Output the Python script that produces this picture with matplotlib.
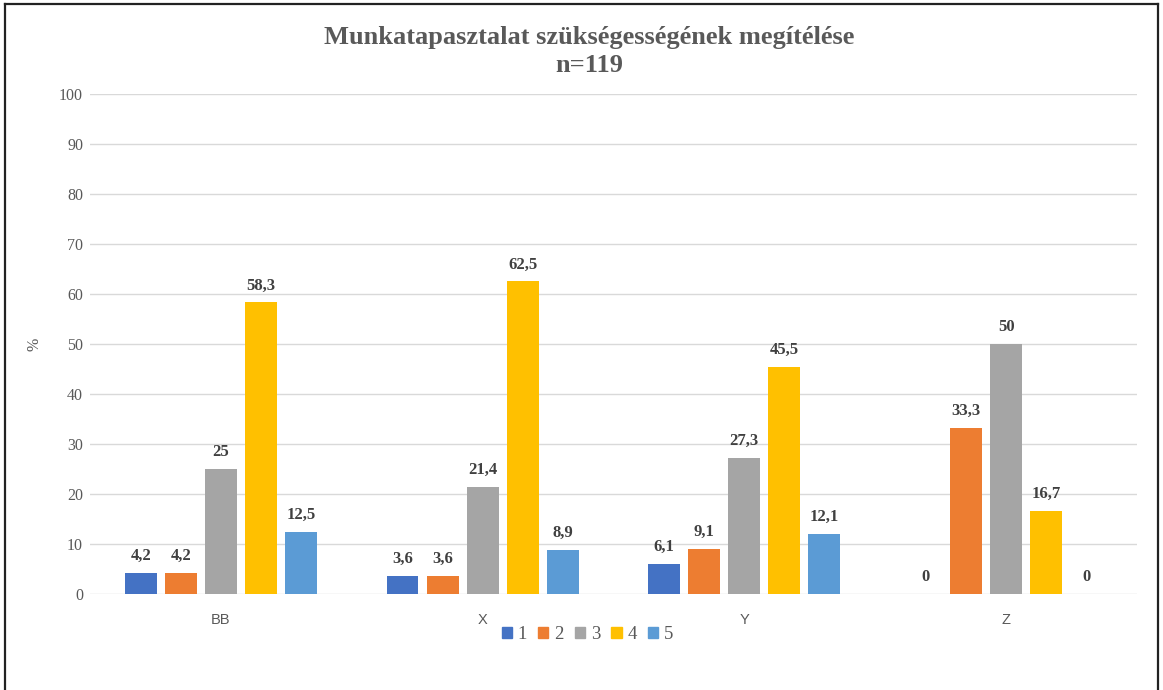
import matplotlib
matplotlib.use("Agg")
import matplotlib.pyplot as plt
import numpy as np
from matplotlib.lines import Line2D

categories = ["BB", "X", "Y", "Z"]
series_names = ["1", "2", "3", "4", "5"]
values_1 = [4.2, 3.6, 6.1, 0]
values_2 = [4.2, 3.6, 9.1, 33.3]
values_3 = [25, 21.4, 27.3, 50]
values_4 = [58.3, 62.5, 45.5, 16.7]
values_5 = [12.5, 8.9, 12.1, 0]
colors = ["#4472C4", "#ED7D31", "#A5A5A5", "#FFC000", "#5B9BD5"]

series = [values_1, values_2, values_3, values_4, values_5]

serif = ["Liberation Serif", "DejaVu Serif"]
text_grey = "#595959"

fig = plt.figure(figsize=(11.63, 6.90), dpi=100)
ax = fig.add_axes([0.0774, 0.1391, 0.9002, 0.7247])

x = np.arange(len(categories))
step = 0.153
width = 0.122
for i, (vals, col, name) in enumerate(zip(series, colors, series_names)):
    pos = x + (i - 2) * step
    ax.bar(pos, vals, width=width, color=col, label=name, zorder=3)
    for px, v in zip(pos, vals):
        label = f"{v:g}".replace(".", ",")
        ax.text(px, v + 1.8, label, ha="center", va="bottom", fontsize=12,
                fontweight="bold", family=serif, color="#404040")

ax.set_xlim(-0.5, 3.5)
ax.set_ylim(0, 100)
ax.set_yticks(range(0, 101, 10))
ax.yaxis.grid(True, color="#D9D9D9", linewidth=1, zorder=0)
for s in ax.spines.values():
    s.set_visible(False)
ax.tick_params(axis="both", length=0)
ax.tick_params(axis="y", pad=5)
for t in ax.get_yticklabels():
    t.set_family(serif)
    t.set_fontsize(11.5)
    t.set_color(text_grey)
ax.set_xticks(x)
ax.set_xticklabels(categories, fontsize=10.5, color=text_grey,
                   family=["Liberation Sans", "DejaVu Sans"])
ax.tick_params(axis="x", pad=14)
ax.set_ylabel("%", family=serif, fontsize=11.5, color=text_grey, labelpad=12)

fig.text(0.5063, 0.963, "Munkatapasztalat szükségességének megítélése\nn=119",
         ha="center", va="top", fontsize=19, fontweight="bold", family=serif,
         color=text_grey, linespacing=1.3)

handles = [plt.Rectangle((0, 0), 1, 1, color=c) for c in colors]
fig.legend(handles, series_names, loc="center", bbox_to_anchor=(0.505, 0.080),
           ncol=5, frameon=False, prop={"family": serif, "size": 13.5},
           handlelength=0.55, handleheight=0.55, handletextpad=0.3,
           columnspacing=0.6, labelcolor=text_grey)

# keret a diagram korul
for xs, ys in [([0.004, 0.004], [0.0, 0.994]), ([0.004, 0.9955], [0.994, 0.994]),
               ([0.9955, 0.9955], [0.0, 0.994])]:
    fig.add_artist(Line2D(xs, ys, color="#222222", linewidth=1.6,
                          transform=fig.transFigure))

fig.savefig("out.png", dpi=100)
